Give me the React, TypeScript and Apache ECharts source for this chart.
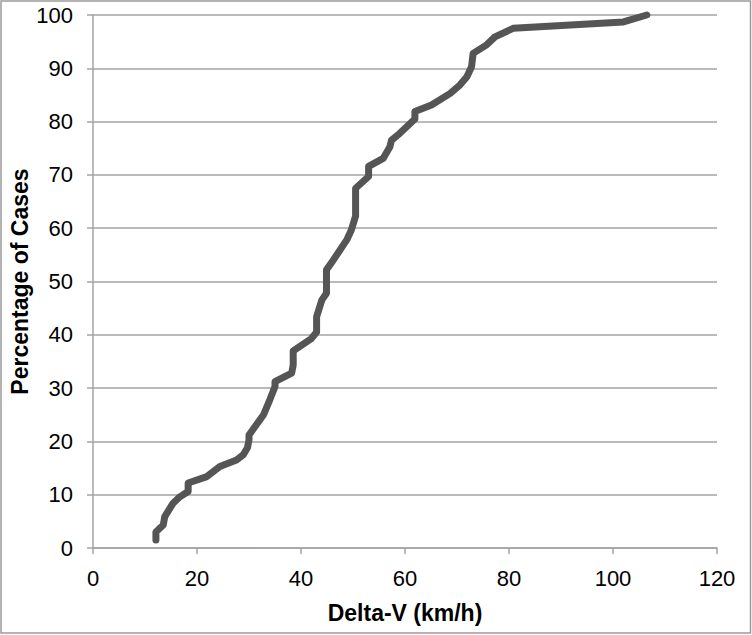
import React, { useEffect, useRef } from "react";
import * as echarts from "echarts";

const deltaV = [
  12.1, 12.1, 13.5, 13.8, 15.4, 16.7, 18.3, 18.3, 21.9, 24.4, 27.6, 28.9, 29.7, 30.0, 30.0,
  32.8, 34.0, 35.0, 35.0, 38.2, 38.5, 38.5, 42.0, 43.0, 43.0, 44.0, 44.9, 44.9, 46.2, 48.8,
  49.7, 50.5, 50.5, 53.0, 53.0, 55.8, 57.1, 57.4, 59.0, 61.9, 61.9, 65.1, 68.7, 70.6, 71.9,
  72.8, 73.1, 75.7, 77.3, 80.8, 102.0, 106.5,
];
const percentOfCases = [
  1.5, 3.0, 4.3, 5.9, 8.4, 9.6, 10.6, 12.2, 13.4, 15.3, 16.5, 17.5, 18.8, 20.3, 21.2,
  25.0, 27.8, 30.3, 31.2, 32.8, 34.3, 37.0, 39.3, 40.5, 43.4, 46.5, 47.8, 52.2, 54.0, 57.8,
  59.7, 62.3, 67.5, 69.7, 71.6, 73.1, 75.3, 76.5, 77.8, 80.5, 81.9, 83.1, 85.3, 86.9, 88.4,
  90.3, 92.8, 94.4, 95.9, 97.5, 98.7, 100.0,
];
const xTicks = { min: 0, max: 120, interval: 20 };
const yTicks = { min: 0, max: 100, interval: 10 };

export default function App() {
  const ref = useRef<HTMLDivElement>(null);
  useEffect(() => {
    document.body.style.margin = "0";
    if (!ref.current) return;
    const chart = echarts.init(ref.current, undefined, { renderer: "svg" });
    const grey = "#a3a3a3";
    const font = "Liberation Sans, Arial, sans-serif";
    chart.setOption({
      animation: false,
      backgroundColor: "#ffffff",
      graphic: [
        {
          type: "rect",
          shape: { x: 1, y: 1, width: 749.5, height: 632 },
          style: { fill: "none", stroke: "#9a9a9a", lineWidth: 1.5 },
          silent: true,
        },
      ],
      grid: { left: 93, right: 35, top: 15, bottom: 87, containLabel: false, outerBoundsMode: "none" },
      xAxis: {
        type: "value",
        ...xTicks,
        name: "Delta-V (km/h)",
        nameLocation: "middle",
        nameGap: 53,
        nameMoveOverlap: false,
        nameTextStyle: { fontFamily: font, fontSize: 23, fontWeight: "bold", color: "#000" },
        axisLine: { show: true, lineStyle: { color: grey, width: 1.5 } },
        axisTick: { show: true, length: 6, lineStyle: { color: grey, width: 1.5 } },
        axisLabel: { fontFamily: font, fontSize: 22, color: "#000", margin: 19 },
        splitLine: { show: false },
      },
      yAxis: {
        type: "value",
        ...yTicks,
        name: "Percentage of Cases",
        nameLocation: "middle",
        nameGap: 62,
        nameMoveOverlap: false,
        nameTextStyle: { fontFamily: font, fontSize: 23, fontWeight: "bold", color: "#000" },
        axisLine: { show: true, lineStyle: { color: grey, width: 1.5 } },
        axisTick: { show: true, length: 6, lineStyle: { color: grey, width: 1.5 } },
        axisLabel: { fontFamily: font, fontSize: 22, color: "#000", margin: 20 },
        splitLine: { show: true, lineStyle: { color: grey, width: 1.5 } },
      },
      series: [
        {
          type: "line",
          data: deltaV.map((x, i) => [x, percentOfCases[i]]),
          showSymbol: false,
          symbol: "none",
          clip: false,
          lineStyle: { color: "#555555", width: 7, cap: "round", join: "round" },
        },
      ],
    });
    return () => chart.dispose();
  }, []);
  return <div ref={ref} style={{ width: 752, height: 635 }} />;
}
